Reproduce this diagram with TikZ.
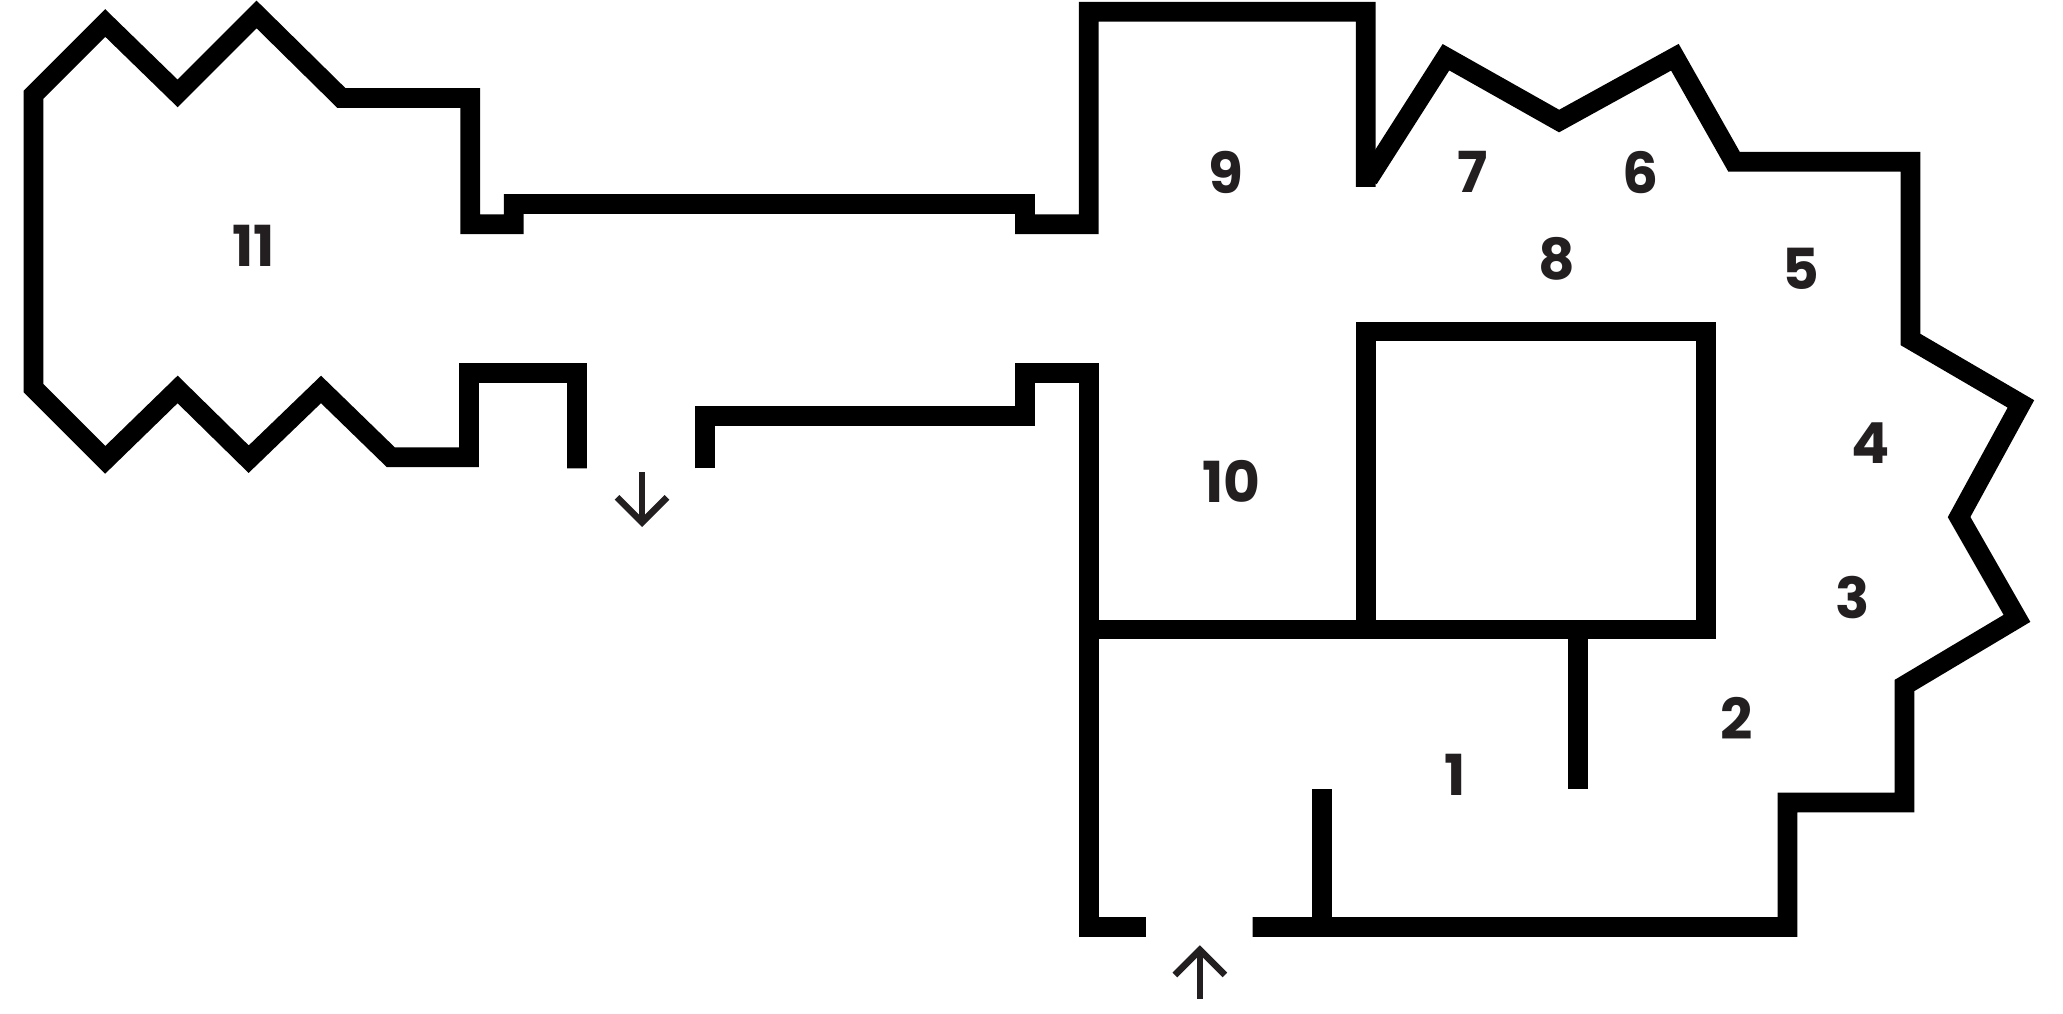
\documentclass[tikz,border=0pt]{standalone}
\usepackage{fontspec}
\setmainfont{Poppins}
\definecolor{ink}{HTML}{231F20}
\begin{document}
\begin{tikzpicture}[x=1pt,y=-1pt,
  wall/.style={line width=15pt, line join=miter, line cap=butt, draw=black},
  arr/.style={line width=5pt, draw=ink, line join=miter, line cap=butt},
  lbl/.style={font=\fontsize{43}{43}\selectfont\bfseries, text=ink, inner sep=0pt}]
\useasboundingbox (0,0) rectangle (1568,770);
% room 11 and upper corridor wall
\draw[wall] (438.5,356) -- (438.5,283.5) -- (356.5,283.5) -- (356.5,347.5) -- (297,347.5)
  -- (244,296) -- (189,349) -- (135,296) -- (80,349.5) -- (25.5,295) -- (25.5,72)
  -- (80,17.5) -- (135,71) -- (195,11) -- (259.5,74.5) -- (357.5,74.5) -- (357.5,170.5)
  -- (390.5,170.5) -- (390.5,155) -- (779,155) -- (779,170.5) -- (827.5,170.5)
  -- (827.5,9) -- (1038,9) -- (1038,142);
% right outer wall
\draw[wall] (1040,136) -- (1099,43.5) -- (1185,92) -- (1273,43.5) -- (1318,123)
  -- (1452,123) -- (1452,258) -- (1536,307) -- (1489,393) -- (1533,470)
  -- (1447.5,521) -- (1447.5,610) -- (1358.5,610) -- (1358.5,704.5) -- (952,704.5);
\draw[wall] (1005,600) -- (1005,704.5);
% lower corridor wall and room 10/1 left wall
\draw[wall] (536,356) -- (536,316) -- (779,316) -- (779,283.5) -- (827.5,283.5)
  -- (827.5,704.5) -- (871,704.5);
% central block
\draw[wall] (1038,252) rectangle (1296.5,478.5);
\draw[wall] (827.5,478.5) -- (1038,478.5);
\draw[wall] (1199.5,478.5) -- (1199.5,600);
% arrows
\draw[arr] (488,359) -- (488,397);
\draw[arr] (469,378) -- (488,397) -- (507,378);
\draw[arr] (912,759) -- (912,722);
\draw[arr] (893,741) -- (912,722) -- (931,741);
% labels
\node[lbl] (r11) at (193,187) {11};
\node[lbl] (r10) at (936,366) {10};
\node[lbl] (r9) at (932,131) {9};
\node[lbl] (r8) at (1183,197) {8};
\node[lbl] (r7) at (1119,131) {7};
\node[lbl] (r6) at (1247,131) {6};
\node[lbl] (r5) at (1369,204) {5};
\node[lbl] (r4) at (1422,337) {4};
\node[lbl] (r3) at (1408,454) {3};
\node[lbl] (r2) at (1320,546) {2};
\node[lbl] (r1) at (1106,589) {1};
\end{tikzpicture}
\end{document}
